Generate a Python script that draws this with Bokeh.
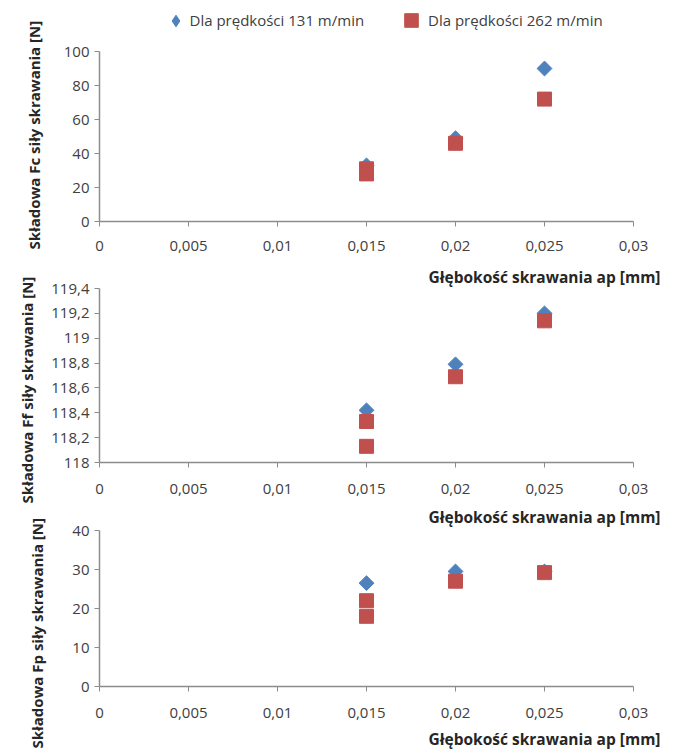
import numpy as np
from bokeh.plotting import figure
from bokeh.layouts import column
from bokeh.models import FixedTicker, Legend, LegendItem, Title, Range1d
from bokeh.embed import file_html
from bokeh.resources import INLINE

# ---- data ----
depth_131 = [0.015, 0.02, 0.025]
depth_262 = [0.015, 0.015, 0.02, 0.025]
fc_131 = [33, 49, 90]
fc_262 = [31, 28, 46, 72]
ff_131 = [118.42, 118.79, 119.20]
ff_262 = [118.33, 118.13, 118.69, 119.14]
fp_131 = [26.5, 29.5, 29.5]
fp_262 = [22, 18, 27, 29.2]

series_names = ["Dla prędkości 131 m/min", "Dla prędkości 262 m/min"]

x_ticks = [0, 0.005, 0.01, 0.015, 0.02, 0.025, 0.03]
x_tick_labels = ["0", "0,005", "0,01", "0,015", "0,02", "0,025", "0,03"]
fc_ticks = [0, 20, 40, 60, 80, 100]
fc_tick_labels = ["0", "20", "40", "60", "80", "100"]
ff_ticks = [118, 118.2, 118.4, 118.6, 118.8, 119, 119.2, 119.4]
ff_tick_labels = ["118", "118,2", "118,4", "118,6", "118,8", "119", "119,2", "119,4"]
fp_ticks = [0, 10, 20, 30, 40]
fp_tick_labels = ["0", "10", "20", "30", "40"]

x_title = "Głębokość skrawania ap [mm]"
y_titles = ["Składowa Fc siły skrawania [N]",
            "Składowa Ff siły skrawania [N]",
            "Składowa Fp siły skrawania [N]"]

BLUE = "#4F81BD"
RED = "#C0504D"
AX = "#8C8C8C"
TXT = "#404040"
TITLE_C = "#262626"
FONT = "Open Sans"
W = 679


def panel(y131, y262, yticks, ylabels, ytitle, left, top, fh, bottom,
          x_lab_standoff, title_standoff, y_title_standoff, y_title_offset):
    p = figure(frame_width=534, frame_height=fh,
               min_border_left=left, min_border_right=W - 534 - left,
               min_border_top=top, min_border_bottom=bottom,
               x_range=Range1d(x_ticks[0], x_ticks[-1]),
               y_range=Range1d(yticks[0], yticks[-1]),
               output_backend="svg", toolbar_location=None,
               background_fill_color="white", border_fill_alpha=0)
    p.outline_line_color = None
    p.grid.visible = False
    r1 = p.scatter(depth_131, y131, marker="square", angle=np.pi / 4, size=10.5,
                   fill_color=BLUE, line_color=BLUE)
    r2 = p.scatter(depth_262, y262, marker="square", size=14,
                   fill_color=RED, line_color=RED)
    p.xaxis.ticker = FixedTicker(ticks=x_ticks)
    p.xaxis.major_label_overrides = dict(zip(x_ticks, x_tick_labels))
    p.yaxis.ticker = FixedTicker(ticks=yticks)
    p.yaxis.major_label_overrides = dict(zip(yticks, ylabels))
    for ax in (p.xaxis, p.yaxis):
        ax.axis_line_color = AX
        ax.axis_line_width = 1.5
        ax.major_tick_line_color = AX
        ax.major_tick_out = 5
        ax.major_tick_in = 0
        ax.minor_tick_line_color = None
        ax.major_label_text_font = FONT
        ax.major_label_text_font_size = "15px"
        ax.major_label_text_color = TXT
    p.xaxis.major_label_standoff = x_lab_standoff
    p.yaxis.major_label_standoff = 5
    yt = Title(text=ytitle, align="left", text_font=FONT,
               text_font_style="bold", text_font_size="15px", text_color=TITLE_C,
               standoff=y_title_standoff, offset=y_title_offset)
    p.add_layout(yt, "left")
    xt = Title(text=x_title, align="right", text_font=FONT, text_font_style="bold",
               text_font_size="15.5px", text_color=TITLE_C, standoff=title_standoff,
               offset=-27)
    p.add_layout(xt, "below")
    return p, r1, r2


p1, a1, b1 = panel(fc_131, fc_262, fc_ticks, fc_tick_labels, y_titles[0],
                   97, 51, 170, 80, 14, 20, 34, -28)
p2, a2, b2 = panel(ff_131, ff_262, ff_ticks, ff_tick_labels, y_titles[1],
                   99, 20, 174, 80, 16, 14, 24, -41)
p3, a3, b3 = panel(fp_131, fp_262, fp_ticks, fp_tick_labels, y_titles[2],
                   99, 22, 156, 67, 16, 11, 45, -62)

# ---- legend strip (lies behind the top border of the first panel) ----
hdr = figure(width=W, height=42, min_border=0, x_axis_type=None, y_axis_type=None,
             output_backend="svg", toolbar_location=None,
             x_range=Range1d(0, 1), y_range=Range1d(0, 1),
             background_fill_alpha=0, border_fill_alpha=0)
hdr.outline_line_color = None
hdr.grid.visible = False
# legend keys: same series, falling outside this strip's range, so only the keys show
k1 = hdr.scatter(depth_131, fc_131, marker="diamond",
                 fill_color=BLUE, line_color=BLUE)
k2 = hdr.scatter(depth_262, fc_262, marker="square", fill_color=RED, line_color=RED)
common = dict(orientation="horizontal", padding=0, margin=0,
              border_line_color=None, background_fill_alpha=0,
              label_text_font=FONT, label_text_font_size="15px",
              label_text_color=TXT, label_standoff=0)
leg1 = Legend(items=[LegendItem(label=series_names[0], renderers=[k1])],
              location=(61.5, 7.5), glyph_width=29, glyph_height=29, **common)
leg2 = Legend(items=[LegendItem(label=series_names[1], renderers=[k2])],
              location=(295, 5), glyph_width=34, glyph_height=34, **common)
hdr.add_layout(leg1, "center")
hdr.add_layout(leg2, "center")

# panels overlap slightly, as in the original figure
p1.styles = {"margin-top": "-42px"}
p2.styles = {"margin-top": "-33px"}
p3.styles = {"margin-top": "-34px"}

layout = column(hdr, p1, p2, p3, spacing=0)
open("out.html", "w").write(file_html(layout, INLINE))
